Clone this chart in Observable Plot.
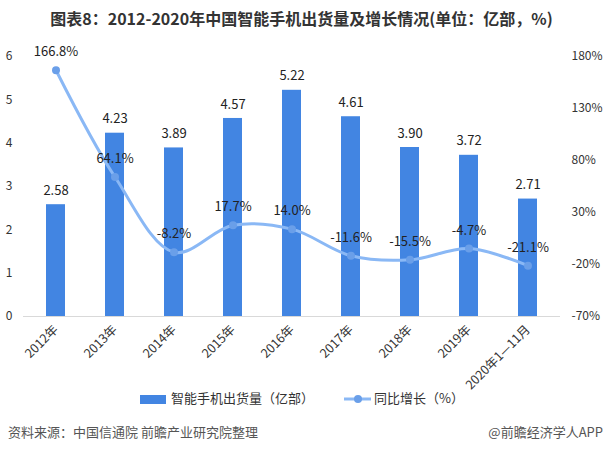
<!DOCTYPE html>
<html>
<head>
<meta charset="utf-8">
<script src="https://cdn.jsdelivr.net/npm/d3@7"></script>
<script src="https://cdn.jsdelivr.net/npm/@observablehq/plot@0.6"></script>
<style>
  html, body { margin: 0; padding: 0; background: #fff; }
  body { width: 603px; height: 453px; position: relative; overflow: hidden;
         font-family: "Noto Sans CJK SC", "Noto Sans", sans-serif; color: #333; }
  #title { position: absolute; left: 0; top: 6px; width: 603px; text-align: center;
           font-size: 16px; font-weight: bold; color: #333; line-height: 24px; }
  #chart { position: absolute; left: 0; top: 38px; }
  .leg { position: absolute; top: 388px; font-size: 13px; line-height: 20px; color: #333; }
  .foot { position: absolute; top: 422px; font-size: 13px; line-height: 20px; color: #555; }
</style>
</head>
<body>
<div id="title">图表8：2012-2020年中国智能手机出货量及增长情况(单位：亿部，%)</div>
<div id="chart"></div>
<div class="leg" style="left:140px;"><span style="display:inline-block;width:26px;height:9px;background:#4285e2;vertical-align:middle;margin-right:5px;"></span>智能手机出货量（亿部）</div>
<div class="leg" style="left:344px;"><svg width="27" height="10" style="vertical-align:middle;margin-right:3px;"><line x1="0" y1="5" x2="27" y2="5" stroke="#8ab8f5" stroke-width="3"/><circle cx="14" cy="5" r="4" fill="#6a9fe9"/></svg>同比增长（%）</div>
<div class="foot" style="left:8px;">资料来源：中国信通院 前瞻产业研究院整理</div>
<div class="foot" style="right:0px;">@前瞻经济学人APP</div>
<script>
const categories = ["2012年", "2013年", "2014年", "2015年", "2016年", "2017年", "2018年", "2019年", "2020年1—11月"];
const shipments = [2.58, 4.23, 3.89, 4.57, 5.22, 4.61, 3.90, 3.72, 2.71];
const growth = [166.8, 64.1, -8.2, 17.7, 14.0, -11.6, -15.5, -4.7, -21.1];
const leftTicks = [0, 1, 2, 3, 4, 5, 6];
const rightTicks = [-70, -20, 30, 80, 130, 180];

// map right-axis percentage onto the left (0..6) scale
const pctMin = -70, pctMax = 180, leftMax = 6;
const toLeft = p => (p - pctMin) / (pctMax - pctMin) * leftMax;

const bars = categories.map((c, i) => ({cat: c, v: shipments[i]}));
const pts = categories.map((c, i) => ({cat: c, p: growth[i], y: toLeft(growth[i])}));

const chart = Plot.plot({
  width: 603,
  height: 352,
  marginTop: 18,
  marginBottom: 74,
  marginLeft: 23,
  marginRight: 43,
  style: {fontFamily: "'Noto Sans CJK SC', 'Noto Sans', sans-serif", fontSize: "12px", color: "#333", background: "transparent", overflow: "visible"},
  x: {type: "band", domain: categories, paddingInner: 0.68, paddingOuter: 0.34, label: null},
  y: {domain: [0, leftMax], label: null},
  marks: [
    Plot.ruleY([0], {stroke: "#d9d9d9", strokeWidth: 1.2}),
    Plot.barY(bars, {x: "cat", y: "v", fill: "#4285e2"}),
    Plot.text(bars, {x: "cat", y: "v", text: d => d.v.toFixed(2), dy: -14, fontSize: 13, fill: "#222"}),
    Plot.line(pts, {x: "cat", y: "y", stroke: "#8ab8f5", strokeWidth: 3, curve: "catmull-rom"}),
    Plot.dot(pts, {x: "cat", y: "y", r: 4, fill: "#6a9fe9", stroke: "none"}),
    Plot.text(pts, {x: "cat", y: "y", text: d => d.p.toFixed(1) + "%", dy: -18, fontSize: 13, fill: "#222"}),
    Plot.axisY(leftTicks, {anchor: "left", tickSize: 0, tickPadding: 11, fontSize: 12, label: null}),
    Plot.axisY(rightTicks.map(toLeft), {anchor: "right", tickSize: 0, tickPadding: 11, fontSize: 12, label: null,
      tickFormat: v => Math.round(v / leftMax * (pctMax - pctMin) + pctMin) + "%"}),
    Plot.axisX({tickSize: 0, tickPadding: 11, tickRotate: -45, fontSize: 12.5, label: null})
  ]
});
document.getElementById("chart").appendChild(chart);
</script>
</body>
</html>
